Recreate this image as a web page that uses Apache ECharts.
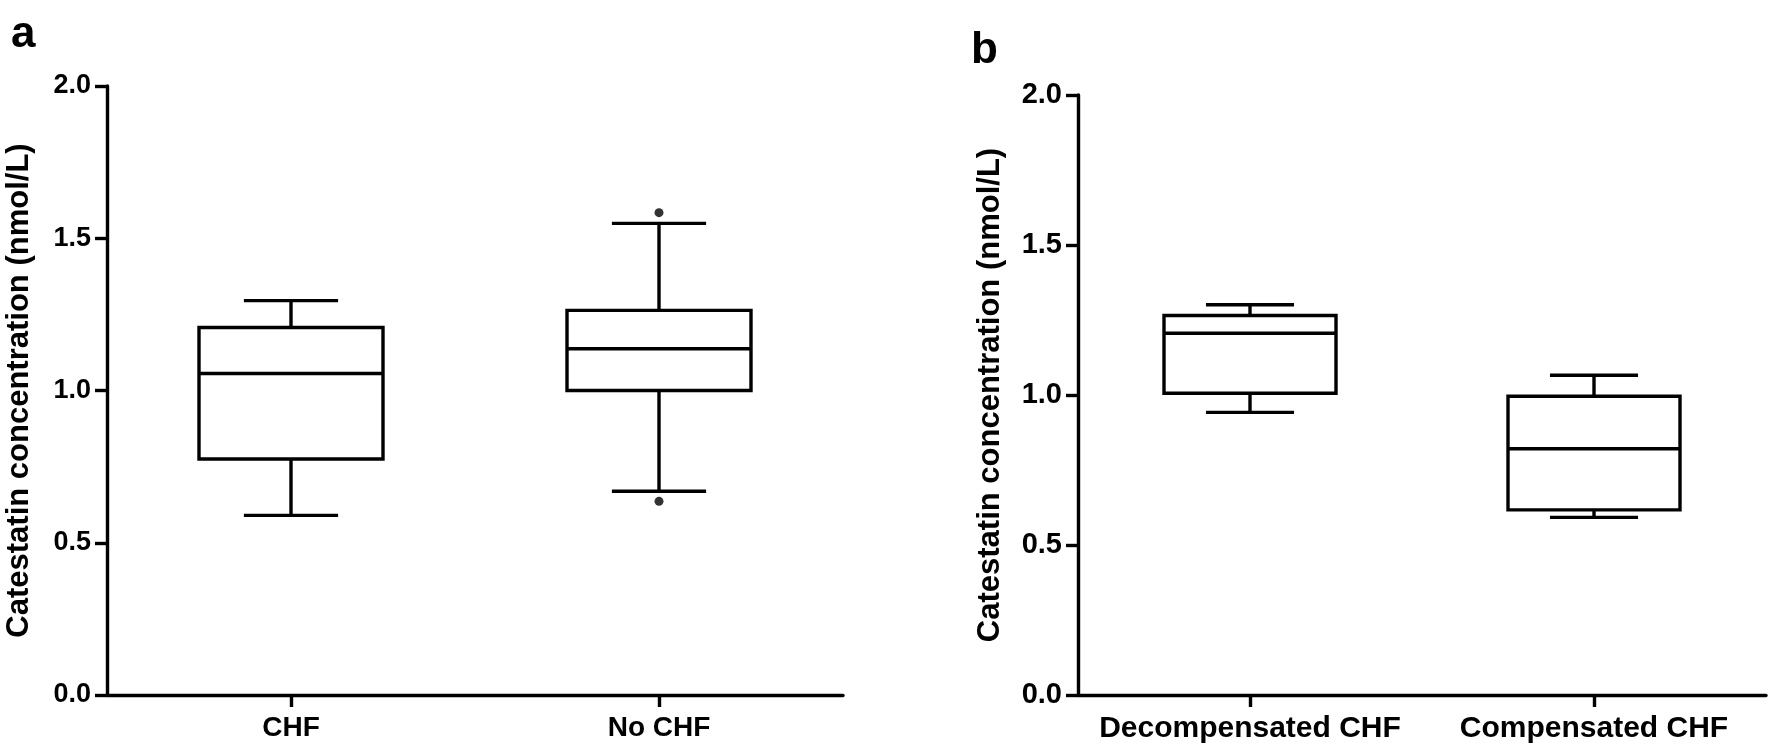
<!DOCTYPE html>
<html>
<head>
<meta charset="utf-8">
<script src="https://cdn.jsdelivr.net/npm/echarts@6/dist/echarts.min.js"></script>
<style>
  html, body { margin: 0; padding: 0; background: #fff; }
  #chart { width: 1773px; height: 749px; }
</style>
</head>
<body>
<div id="chart"></div>
<script>
  // panel a
  const catsA = ['CHF', 'No CHF']
  const minA = [0.59, 0.669]
  const q1A = [0.775, 1.0]
  const medA = [1.056, 1.137]
  const q3A = [1.207, 1.263]
  const maxA = [1.295, 1.549]
  const outliersA = [['No CHF', 1.584], ['No CHF', 0.636]]

  // panel b
  const catsB = ['Decompensated CHF', 'Compensated CHF']
  const minB = [0.942, 0.592]
  const q1B = [1.006, 0.617]
  const medB = [1.206, 0.821]
  const q3B = [1.265, 0.996]
  const maxB = [1.301, 1.066]

  const yTicks = { min: 0, max: 2, interval: 0.5 }
  const font = '"Liberation Sans", Arial, sans-serif'
  const black = '#000'
  const lw = 3.4

  const boxRows = (mins, q1s, meds, q3s, maxs) =>
    mins.map((v, i) => [i, v, q1s[i], meds[i], q3s[i], maxs[i]])

  // box drawn by hand: whisker caps are half the box width
  function renderBox(params, api) {
    const idx = api.value(0)
    const lo = api.coord([idx, api.value(1)])
    const q1 = api.coord([idx, api.value(2)])
    const med = api.coord([idx, api.value(3)])
    const q3 = api.coord([idx, api.value(4)])
    const hi = api.coord([idx, api.value(5)])
    const band = api.size([1, 0])[0]
    const hw = band * 0.25
    const cw = band * 0.128
    const x = med[0]
    const ln = { stroke: black, lineWidth: lw }
    return {
      type: 'group',
      children: [
        { type: 'line', shape: { x1: x, y1: q3[1], x2: x, y2: hi[1] }, style: ln },
        { type: 'line', shape: { x1: x, y1: q1[1], x2: x, y2: lo[1] }, style: ln },
        { type: 'line', shape: { x1: x - cw, y1: hi[1], x2: x + cw, y2: hi[1] }, style: ln },
        { type: 'line', shape: { x1: x - cw, y1: lo[1], x2: x + cw, y2: lo[1] }, style: ln },
        {
          type: 'rect',
          shape: { x: x - hw, y: q3[1], width: hw * 2, height: q1[1] - q3[1] },
          style: { stroke: black, lineWidth: lw, fill: '#fff' }
        },
        { type: 'line', shape: { x1: x - hw, y1: med[1], x2: x + hw, y2: med[1] }, style: ln }
      ]
    }
  }

  const axisLine = { show: true, lineStyle: { color: black, width: lw } }
  const axisTick = { show: true, length: 12, lineStyle: { color: black, width: lw } }

  function makeX(cats, gridIndex, size) {
    return {
      type: 'category',
      gridIndex,
      data: cats,
      boundaryGap: true,
      axisLine,
      axisTick: { ...axisTick, alignWithLabel: true, interval: 0 },
      axisLabel: {
        color: black, fontSize: size, fontWeight: 'bold', fontFamily: font, margin: 19,
        interval: 0, hideOverlap: false
      },
      splitLine: { show: false }
    }
  }

  function makeY(gridIndex, size) {
    return {
      type: 'value',
      gridIndex,
      ...yTicks,
      name: 'Catestatin concentration (nmol/L)',
      nameLocation: 'middle',
      nameRotate: 90,
      nameGap: 72,
      nameTextStyle: { color: black, fontSize: 31, fontWeight: 'bold', fontFamily: font },
      axisLine,
      axisTick,
      axisLabel: {
        color: black, fontSize: size, fontWeight: 'bold', fontFamily: font, margin: 16,
        formatter: (v) => v.toFixed(1)
      },
      splitLine: { show: false }
    }
  }

  const chart = echarts.init(document.getElementById('chart'))
  chart.setOption({
    backgroundColor: '#fff',
    animation: false,
    title: [
      { text: 'a', left: 6, top: 8, textStyle: { fontSize: 44, fontWeight: 'bold', fontFamily: font, color: black } },
      { text: 'b', left: 966, top: 24, textStyle: { fontSize: 44, fontWeight: 'bold', fontFamily: font, color: black } }
    ],
    grid: [
      { left: 107, right: 930, top: 86, bottom: 54 },
      { left: 1078, right: 7, top: 95, bottom: 54 }
    ],
    xAxis: [makeX(catsA, 0, 28), makeX(catsB, 1, 30)],
    yAxis: [makeY(0, 27), makeY(1, 29)],
    series: [
      {
        type: 'custom',
        xAxisIndex: 0,
        yAxisIndex: 0,
        renderItem: renderBox,
        encode: { x: 0, y: [1, 2, 3, 4, 5] },
        data: boxRows(minA, q1A, medA, q3A, maxA)
      },
      {
        type: 'scatter',
        xAxisIndex: 0,
        yAxisIndex: 0,
        symbolSize: 9,
        itemStyle: { color: black },
        data: outliersA
      },
      {
        type: 'custom',
        xAxisIndex: 1,
        yAxisIndex: 1,
        renderItem: renderBox,
        encode: { x: 0, y: [1, 2, 3, 4, 5] },
        data: boxRows(minB, q1B, medB, q3B, maxB)
      }
    ]
  })
</script>
</body>
</html>
